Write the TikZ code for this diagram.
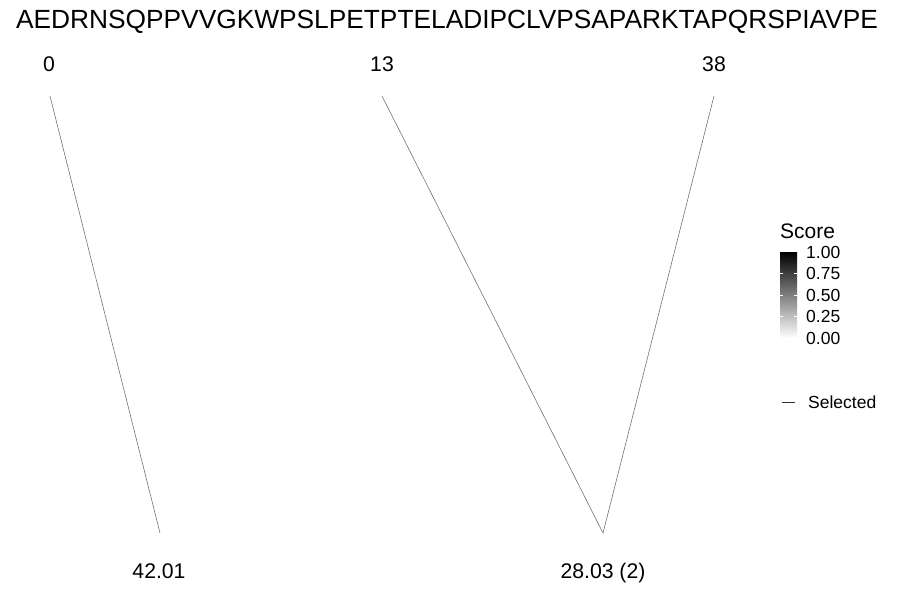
\documentclass[tikz,border=0pt]{standalone}
\usepackage{fontspec}
\setmainfont{Liberation Sans}
\usetikzlibrary{positioning}

\begin{document}
\begin{tikzpicture}[x=1pt,y=-1pt,
	seqlabel/.style={font=\fontsize{26.3}{30}\selectfont},
	poslabel/.style={font=\fontsize{21.2}{25}\selectfont},
	ticklabel/.style={font=\fontsize{17.5}{20}\selectfont,anchor=west,inner sep=0pt},
	matchline/.style={draw=black!55,line width=0.6pt}]
				\useasboundingbox (0,0) rectangle (900,600);
				\node[seqlabel] (seq) at (447,22) {AEDRNSQPPVVGKWPSLPETPTELADIPCLVPSAPARKTAPQRSPIAVPE};
				% peptide positions and scores
				\node[poslabel] (pos0) at (49,64) {0};
				\node[poslabel] (pos13) at (382,64) {13};
				\node[poslabel] (pos38) at (714,64) {38};
				\node[poslabel,anchor=base] (sc1) at (159,578) {42.01};
				\node[poslabel,anchor=base] (sc2) at (603,578) {28.03 (2)};
				\coordinate (top0) at (50,96);
				\coordinate (top13) at (382,96);
				\coordinate (top38) at (714,96);
				\coordinate (bot1) at (160,533);
				\coordinate (bot2) at (603,533);
				\draw[matchline] (top0) -- (bot1);
				\draw[matchline] (top13) -- (bot2) -- (top38);
				% legend
				\node[font=\fontsize{21}{25}\selectfont,anchor=west,inner sep=0pt] (score) at (780,231) {Score};
				\shade[top color=black,bottom color=white] (780,252) rectangle (797,338);
				\foreach \v/\y in {1.00/252,0.75/273.5,0.50/295,0.25/316.5,0.00/338}
				{
					\node[ticklabel] at (806,\y) {\v};
				}
				\foreach \y in {273.5,295,316.5}
				{
					\draw[white,line width=0.4pt] (780,\y) -- (783,\y);
					\draw[white,line width=0.4pt] (794,\y) -- (797,\y);
				}
				\coordinate (sel1) at (782,402);
				\coordinate (sel2) at (795,402);
				\draw[black!80,line width=0.5pt] (sel1) -- (sel2);
				\node[ticklabel] (selected) at (808,402) {Selected};
			\end{tikzpicture}
\end{document}
